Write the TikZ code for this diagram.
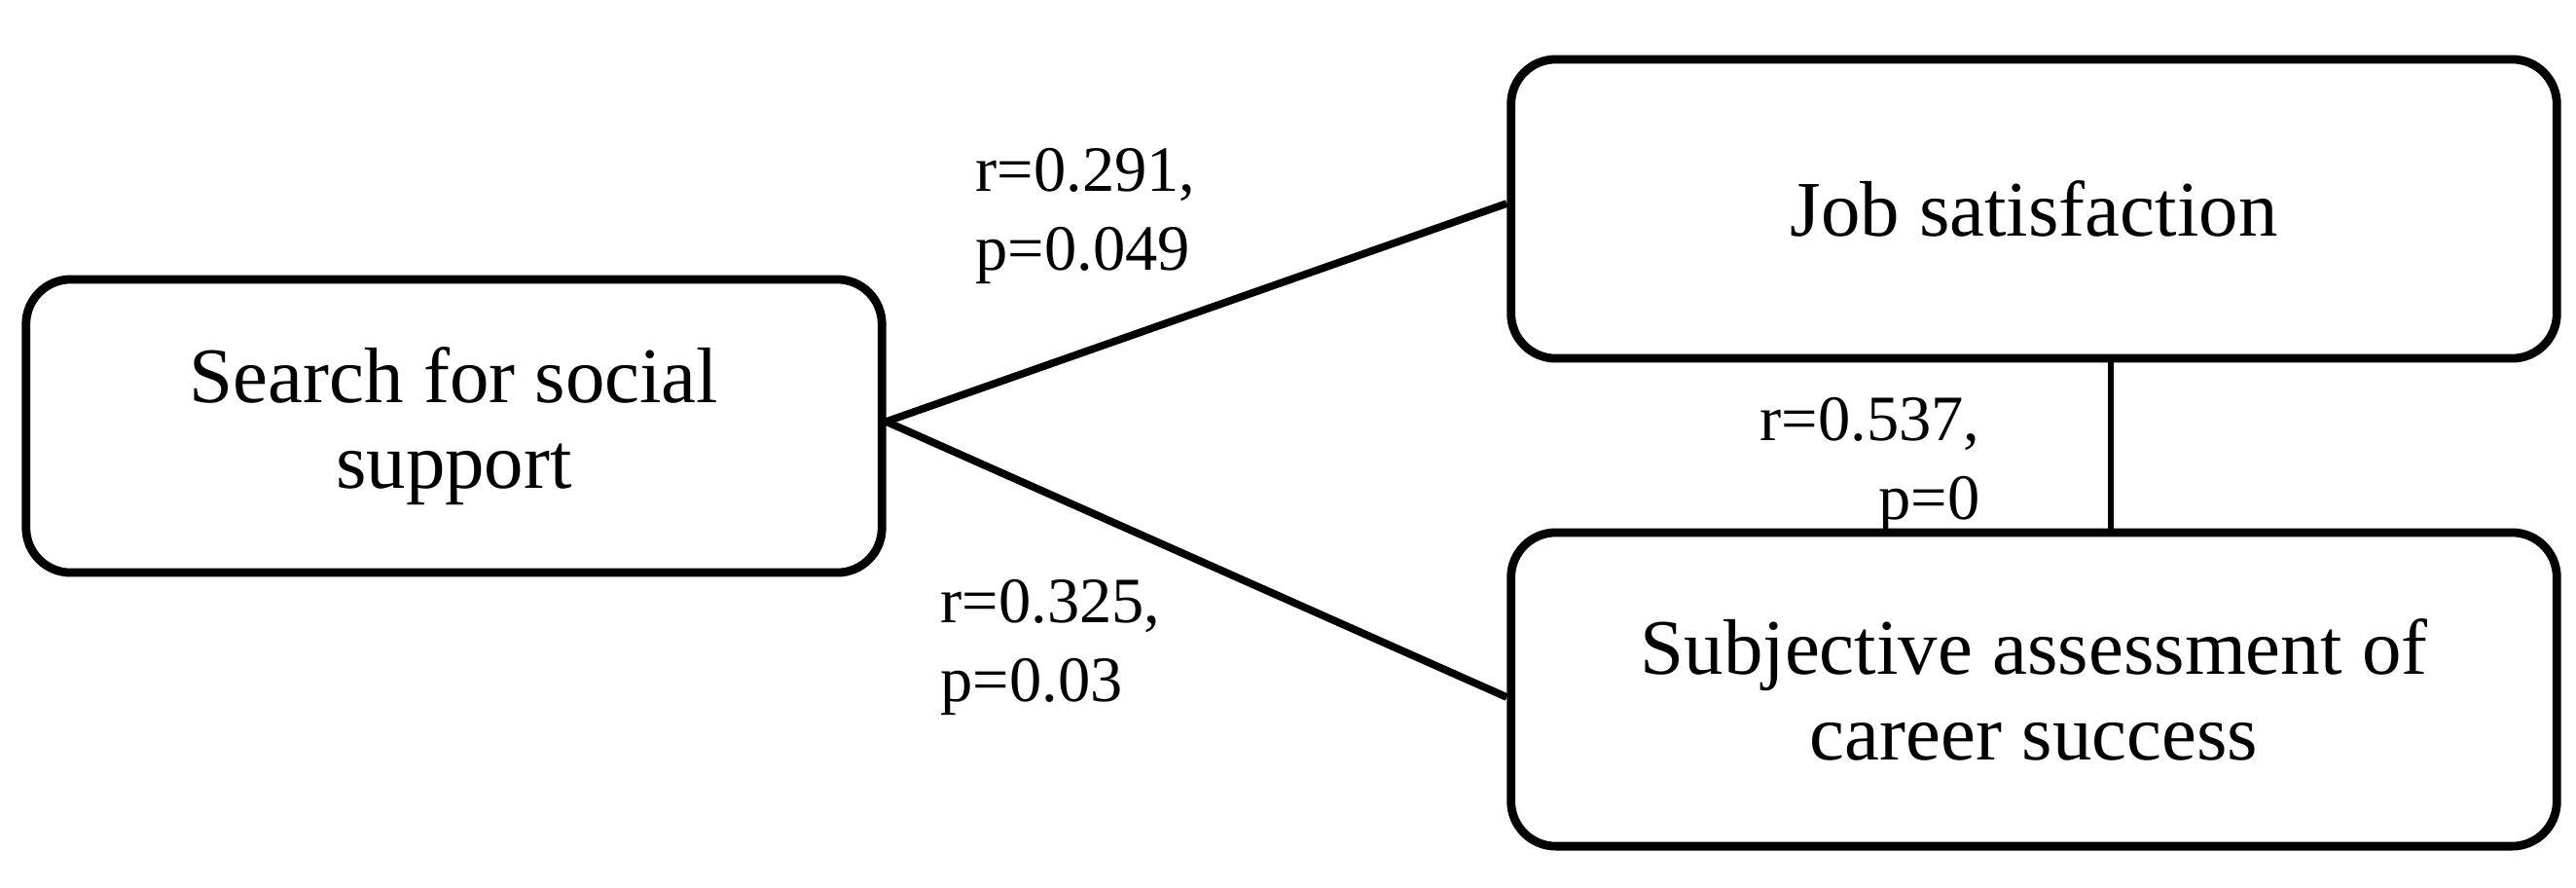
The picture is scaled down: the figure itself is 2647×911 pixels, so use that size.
\documentclass[tikz,border=0pt]{standalone}
\usepackage{fontspec}
\setmainfont{Liberation Serif}
\begin{document}
\begin{tikzpicture}[x=0.01cm,y=-0.01cm,
  boxnode/.style={draw=black,line width=2.5pt,rounded corners=0.46cm,inner sep=0pt,
    align=center,font=\fontsize{23pt}{25pt}\selectfont},
  conn/.style={draw=black,line width=2.2pt},
  vconn/.style={draw=black,line width=1.5pt},
  lbl/.style={inner sep=0pt,font=\fontsize{18.9pt}{22.8pt}\selectfont}]
\useasboundingbox (0,0) rectangle (2647,911);
\node[boxnode,minimum width=8.79cm,minimum height=3.01cm] (L) at (466.5,437.5) {Search for social\\support};
\node[boxnode,minimum width=10.74cm,minimum height=3.07cm] (J) at (2090,214.5) {Job satisfaction};
\node[boxnode,minimum width=10.74cm,minimum height=3.22cm] (S) at (2090,708) {Subjective assessment of\\career success};
\draw[conn] ([yshift=0.045cm]L.east) -- ([yshift=0.055cm]J.west);
\draw[conn] ([yshift=0.045cm]L.east) -- ([yshift=-0.08cm]S.west);
\draw[vconn] ([xshift=0.79cm]J.south) -- ([xshift=0.79cm]S.north);
\node[lbl,align=left,anchor=base west] (l1) at (1002,277) {r=0.291,\\p=0.049};
\node[lbl,align=left,anchor=base west] (l2) at (966,720) {r=0.325,\\p=0.03};
\node[lbl,align=right,anchor=base east] (l3) at (2035,533) {r=0.537,\\p=0};
\end{tikzpicture}
\end{document}
